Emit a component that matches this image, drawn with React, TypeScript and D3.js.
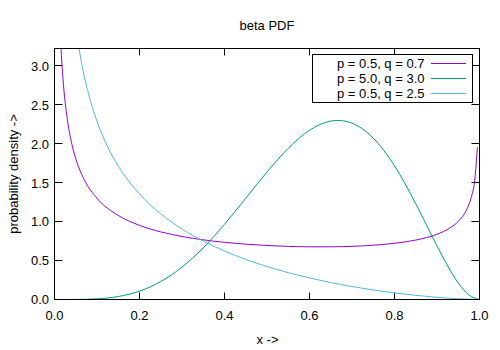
import React from "react";
import * as d3 from "d3";

const title = "beta PDF";
const xLabel = "x ->";
const yLabel = "probability density ->";
const xTicks = [0, 0.2, 0.4, 0.6, 0.8, 1.0];
const yTicks = [0, 0.5, 1.0, 1.5, 2.0, 2.5, 3.0];
const xDomain = [0, 1];
const yDomain = [0, 3.23];

const seriesNames = ["p = 0.5, q = 0.7", "p = 5.0, q = 3.0", "p = 0.5, q = 2.5"];
const seriesColors = ["#9400d3", "#009e73", "#56b4e9"];

// p = 0.5, q = 0.7
const s1x = [0.01, 0.015, 0.02, 0.03, 0.04, 0.05, 0.07, 0.1, 0.15, 0.2, 0.25, 0.3, 0.35, 0.4, 0.45, 0.5, 0.55, 0.6, 0.65, 0.7, 0.75, 0.8, 0.85, 0.9, 0.93, 0.95, 0.97, 0.98, 0.99, 0.995];
const s1y = [4.003, 3.273, 2.839, 2.325, 2.02, 1.812, 1.5416, 1.3026, 1.0819, 0.9542, 0.8701, 0.8109, 0.7676, 0.7356, 0.7116, 0.6948, 0.6837, 0.6782, 0.6782, 0.6843, 0.6985, 0.7231, 0.7648, 0.8393, 0.919, 1.0058, 1.1602, 1.3037, 1.5967, 1.9609];

// p = 5.0, q = 3.0
const s2x = [0, 0.05, 0.1, 0.15, 0.2, 0.25, 0.3, 0.35, 0.4, 0.45, 0.5, 0.55, 0.6, 0.65, 0.6667, 0.7, 0.75, 0.8, 0.85, 0.9, 0.925, 0.95, 0.975, 1.0];
const s2y = [0, 0.0006, 0.0085, 0.0384, 0.1075, 0.2307, 0.4168, 0.6657, 0.9677, 1.3025, 1.6406, 1.9456, 2.1773, 2.2961, 2.3045, 2.269, 2.0764, 1.7203, 1.2332, 0.6889, 0.4324, 0.2138, 0.0593, 0];

// p = 0.5, q = 2.5
const s3x = [0.04, 0.05, 0.06, 0.07, 0.08, 0.1, 0.125, 0.15, 0.2, 0.25, 0.3, 0.35, 0.4, 0.45, 0.5, 0.55, 0.6, 0.65, 0.7, 0.75, 0.8, 0.85, 0.9, 0.95, 1.0];
const s3y = [3.992, 3.515, 3.1582, 2.8774, 2.6483, 2.2918, 1.965, 1.7175, 1.3581, 1.1027, 0.9076, 0.7519, 0.6238, 0.5161, 0.4244, 0.3455, 0.2772, 0.218, 0.1667, 0.1225, 0.0849, 0.0535, 0.0283, 0.0097, 0];

const W = 500;
const H = 350;
const L = 54.5;
const R = 479.5;
const T = 48.5;
const B = 299.5;
const FONT = "'Liberation Sans', Arial, sans-serif";

export default function App() {
  const x = d3.scaleLinear().domain(xDomain).range([L, R]);
  const y = d3.scaleLinear().domain(yDomain).range([B, T]);
  const line = d3
    .line<[number, number]>()
    .x((d) => x(d[0]))
    .y((d) => y(d[1]))
    .curve(d3.curveMonotoneX);

  const series = [
    s1x.map((v, i) => [v, s1y[i]] as [number, number]),
    s2x.map((v, i) => [v, s2y[i]] as [number, number]),
    s3x.map((v, i) => [v, s3y[i]] as [number, number]),
  ];

  const legX1 = 312.5;
  const legX2 = 472.5;
  const legY1 = 54.5;
  const legY2 = 102.5;
  const rowY = [63.5, 78.5, 93.5];

  return (
    <svg
      width={W}
      height={H}
      style={{ position: "absolute", left: 0, top: 0, background: "#fff" }}
      fontFamily={FONT}
      fontSize={13}
    >
      <rect x={0} y={0} width={W} height={H} fill="#fff" />
      <defs>
        <clipPath id="plotclip">
          <rect x={L} y={T} width={R - L} height={B - T} />
        </clipPath>
      </defs>
      {/* ticks */}
      {xTicks.map((t) => (
        <g key={"xt" + t}>
          <line x1={Math.round(x(t)) + 0.5 - 1} x2={Math.round(x(t)) + 0.5 - 1} y1={B} y2={B - 7} stroke="#000" />
          <line x1={Math.round(x(t)) + 0.5 - 1} x2={Math.round(x(t)) + 0.5 - 1} y1={T} y2={T + 7} stroke="#000" />
          <text x={x(t)} y={320} textAnchor="middle" fill="#000">
            {t.toFixed(1)}
          </text>
        </g>
      ))}
      {yTicks.map((t) => (
        <g key={"yt" + t}>
          <line x1={L} x2={L + 8} y1={Math.round(y(t)) + 0.5 - 1} y2={Math.round(y(t)) + 0.5 - 1} stroke="#000" />
          <line x1={R} x2={R - 8} y1={Math.round(y(t)) + 0.5 - 1} y2={Math.round(y(t)) + 0.5 - 1} stroke="#000" />
          <text x={49} y={y(t)} dy="0.36em" textAnchor="end" fill="#000">
            {t.toFixed(1)}
          </text>
        </g>
      ))}
      {/* curves */}
      <g clipPath="url(#plotclip)">
        {series.map((s, i) => (
          <path key={i} d={line(s) || ""} fill="none" stroke={seriesColors[i]} strokeWidth={1} />
        ))}
      </g>
      {/* frame */}
      <rect x={L} y={T} width={R - L} height={B - T} fill="none" stroke="#000" strokeWidth={1} />
      {/* legend */}
      <rect x={legX1} y={legY1} width={legX2 - legX1} height={legY2 - legY1} fill="#fff" stroke="#000" strokeWidth={1} />
      {seriesNames.map((n, i) => (
        <g key={"lg" + i}>
          <text x={424.5} y={rowY[i]} dy="0.36em" textAnchor="end" fill="#000">
            {n}
          </text>
          <line x1={431} x2={466} y1={rowY[i]} y2={rowY[i]} stroke={seriesColors[i]} strokeWidth={1} />
        </g>
      ))}
      {/* labels */}
      <text x={267} y={30} textAnchor="middle" fill="#000">
        {title}
      </text>
      <text x={267.5} y={343.5} textAnchor="middle" fill="#000">
        {xLabel}
      </text>
      <text
        transform={`translate(17.5, ${(T + B) / 2}) rotate(-90)`}
        textAnchor="middle"
        fill="#000"
      >
        {yLabel}
      </text>
    </svg>
  );
}
